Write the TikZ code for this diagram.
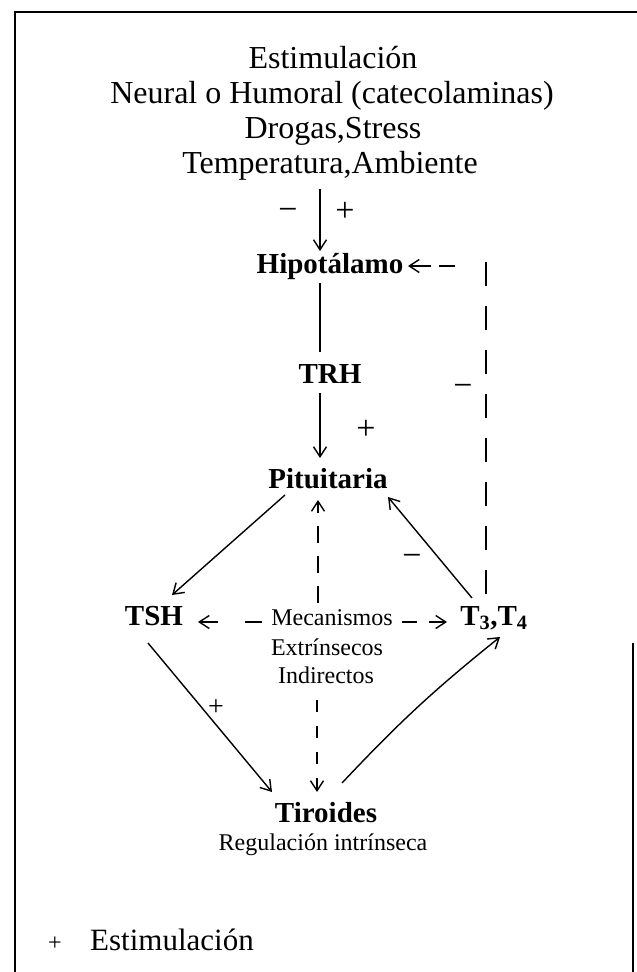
\documentclass[tikz,border=0pt]{standalone}
\usepackage{fontspec}
\setmainfont{Liberation Serif}
\usetikzlibrary{arrows.meta,calc}
\begin{document}
\begin{tikzpicture}[x=1pt,y=-1pt,
  lw/.style={line width=1.4pt},
  arr/.style={lw,-{Straight Barb[length=10pt,width=13pt,line width=1.4pt]}},
  toptxt/.style={inner sep=0pt,anchor=base,font=\fontsize{32}{36}\selectfont},
  organ/.style={inner sep=0pt,anchor=base,font=\fontsize{29}{33}\selectfont\bfseries},
  smalltxt/.style={inner sep=0pt,anchor=base,font=\fontsize{24}{28}\selectfont},
  sign/.style={inner sep=0pt,font=\fontsize{34}{36}\selectfont},
  frame/.style={line width=2pt}
]
\useasboundingbox (0,0) rectangle (637,972);
% frame
\coordinate (fa) at (15,972);
\coordinate (fb) at (15,12);
\coordinate (fc) at (637,12);
\coordinate (fd) at (633,643);
\coordinate (fe) at (633,972);
\draw[frame] (fa) -- (fb) -- (fc);
\draw[frame] (fd) -- (fe);

% top text
\node[toptxt] (s1) at (333,68) {Estimulación};
\node[toptxt] (s2) at (332,103) {Neural o Humoral (catecolaminas)};
\node[toptxt] (s3) at (333,138) {Drogas,Stress};
\node[toptxt] (s4) at (330,173) {Temperatura,Ambiente};

% organs
\node[organ] (hipo) at (330,273) {Hipotálamo};
\node[organ] (trh) at (330,383) {TRH};
\node[organ] (pit) at (328,488) {Pituitaria};
\node[organ] (tsh) at (154,625) {TSH};
\node[organ] (t34) at (494,625) {T\textsubscript{3},T\textsubscript{4}};
\node[organ] (tir) at (326,822) {Tiroides};
\node[smalltxt] (reg) at (323,850) {Regulación intrínseca};

\node[smalltxt] (mec) at (332,625) {Mecanismos};
\node[smalltxt] (ext) at (327,655) {Extrínsecos};
\node[smalltxt] (ind) at (326,683) {Indirectos};

% legend
\node[smalltxt] (lgp) at (55,950) {+};
\node[inner sep=0pt,anchor=base west,font=\fontsize{31}{34}\selectfont] (lgt) at (90,950) {Estimulación};

% signs
\node[sign] (m1) at (288,214) {−};
\node[sign] (p1) at (345,212) {+};
\node[sign] (p2) at (366,430) {+};
\node[sign] (m2) at (463,390) {−};
\node[sign] (m3) at (412,560) {−};
\node[sign,font=\fontsize{28}{30}\selectfont] (p3) at (216,708) {+};

% vertical axis
\coordinate (ax) at (320,0);
\draw[arr] ($(s4.base -| ax)+(0,16)$) -- ($(hipo.base -| ax)+(0,-22)$);
\draw[lw] ($(hipo.base -| ax)+(0,10)$) -- ($(trh.base -| ax)+(0,-31)$);
\draw[arr] ($(trh.base -| ax)+(0,10)$) -- ($(pit.base -| ax)+(0,-30)$);

% diagonals
\draw[arr] ($(pit.base)+(-43,7)$) -- ($(tsh.base)+(18,-30)$);
\draw[arr] ($(t34.base)+(-22,-27)$) -- ($(pit.base)+(60,9)$);
\draw[arr] ($(tsh.base)+(-6,18)$) -- ($(tir.base)+(-54,-30)$);
\draw[arr] ($(tir.base)+(16,-39)$) to[bend left=4] ($(t34.base)+(6,12)$);

% dashed mechanisms
\draw[arr,dash pattern=on 17pt off 13pt] ($(mec.base)+(-14,-22)$) -- ($(pit.base)+(-10,12)$);
\draw[arr,dash pattern=on 12pt off 14pt] ($(ind.base)+(-9,17)$) -- ($(tir.base)+(-9,-30)$);
\draw[arr,dash pattern=on 17pt off 27pt on 40pt off 10pt] ($(mec.base)+(-70,-3)$) -- ($(tsh.base)+(44,-3)$);
\draw[arr,dash pattern=on 15pt off 12pt on 40pt off 10pt] ($(mec.base)+(70,-3)$) -- ($(t34.base)+(-47,-3)$);

% feedback
\coordinate (fbtop) at (486,247);
\coordinate (fbcorner) at (486,266);
\draw[lw,dash pattern=on 24pt off 20pt] ($(t34.base)+(-8,-31)$) -- (fbtop);
\draw[arr,dash pattern=on 16pt off 8pt on 24pt off 31pt,dash phase=48pt] (fbcorner) -- ($(hipo.base)+(78,-7)$);
\end{tikzpicture}
\end{document}
